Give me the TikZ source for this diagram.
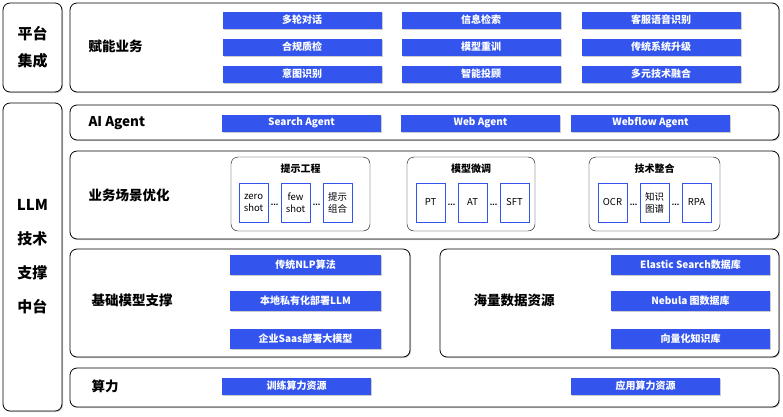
\documentclass[tikz,border=0pt]{standalone}
\usepackage{fontspec}
\setmainfont{Liberation Sans}
\newfontfamily\cjk{Noto Sans CJK SC}
\usetikzlibrary{shadows,calc}
\definecolor{btn}{HTML}{3355EE}
\tikzset{
  outer/.style={draw=black,thick,rounded corners=7pt,fill=white,drop shadow={shadow xshift=1pt,shadow yshift=-1pt,opacity=.4}},
  inner/.style={draw=black,rounded corners=7pt,fill=white},
  btnbox/.style={fill=btn,text=white,font=\cjk\bfseries\fontsize{10}{11}\selectfont,minimum height=17pt,inner sep=0pt,drop shadow={shadow xshift=1pt,shadow yshift=-1pt,opacity=.4}},
  small/.style={draw=btn,fill=white,thick,minimum width=29pt,minimum height=39pt,inner sep=0pt,align=center,font=\cjk\fontsize{9.5}{12}\selectfont},
  lbl/.style={font=\cjk\bfseries\fontsize{13.5}{15}\selectfont},
  ttl/.style={font=\cjk\bfseries\fontsize{10}{11}\selectfont},
  dots/.style={font=\bfseries\fontsize{9}{9}\selectfont,inner sep=0pt}
}
\begin{document}
\begin{tikzpicture}[x=1pt,y=-1pt]
\useasboundingbox (0,0) rectangle (783,416);
% left
\node[outer,minimum width=59pt,minimum height=89pt,align=center,font=\cjk\bfseries\fontsize{15}{27}\selectfont] (pt) at (32.5,47.5) {平台\\集成};
\node[outer,minimum width=59pt,minimum height=308pt,align=center,font=\cjk\bfseries\fontsize{15}{34}\selectfont] (llm) at (32.5,257) {LLM\\技术\\支撑\\中台};
% row1
\node[outer,minimum width=709pt,minimum height=89pt] (r1) at (424.5,47.5) {};
\node[lbl,anchor=west] (l1) at (85,46) {赋能业务};
\foreach \n/\t/\x/\y in {a/多轮对话/302/20,b/信息检索/481/20,c/客服语音识别/661/20,d/合规质检/302/47,e/模型重训/481/47,f/传统系统升级/661/47,g/意图识别/302/74,h/智能投顾/481/74,i/多元技术融合/661/74}
  \node[btnbox,minimum width=159pt] (b\n) at (\x,\y) {\t};
% AI Agent
\node[outer,minimum width=709pt,minimum height=35pt] (r2) at (424.5,122.5) {};
\node[lbl,anchor=west] (l2) at (85,123) {AI Agent};
\node[btnbox,minimum width=159pt] (sa) at (301.5,123) {Search Agent};
\node[btnbox,minimum width=159pt] (wa) at (480.5,123) {Web Agent};
\node[btnbox,minimum width=159pt] (wf) at (650.5,123) {Webflow Agent};
% scenario
\node[outer,minimum width=709pt,minimum height=88pt] (r3) at (424.5,195) {};
\node[lbl,anchor=west] (l3) at (85,195) {业务场景优化};
\node[inner,minimum width=139pt,minimum height=74pt] (g1) at (300.5,194) {};
\node[inner,minimum width=128pt,minimum height=74pt] (g2) at (471,194) {};
\node[inner,minimum width=131pt,minimum height=74pt] (g3) at (654.5,194) {};
\node[ttl] (t1) at (300.5,169) {提示工程};
\node[ttl] (t2) at (471,169) {模型微调};
\node[ttl] (t3) at (654.5,169) {技术整合};
\node[small] (s1) at (253.5,202.5) {zero\\shot};
\node[small] (s2) at (295.5,202.5) {few\\shot};
\node[small] (s3) at (337.5,202.5) {提示\\组合};
\node[small] (s4) at (430.5,202.5) {PT};
\node[small] (s5) at (472.5,202.5) {AT};
\node[small] (s6) at (514.5,202.5) {SFT};
\node[small] (s7) at (612.5,202.5) {OCR};
\node[small] (s8) at (654.5,202.5) {知识\\图谱};
\node[small] (s9) at (696.5,202.5) {RPA};
\foreach \p/\q in {s1/s2,s2/s3,s4/s5,s5/s6,s7/s8,s8/s9}
  \node[dots] at ($(\p)!0.5!(\q)+(0,2)$) {...};
% base
\node[outer,minimum width=340pt,minimum height=108pt] (r4) at (240,303) {};
\node[lbl,anchor=west] (l4) at (88,300) {基础模型支撑};
\node[btnbox,minimum width=151pt,minimum height=20pt] (c1) at (305.5,265) {传统NLP算法};
\node[btnbox,minimum width=151pt,minimum height=20pt] (c2) at (305.5,301) {本地私有化部署LLM};
\node[btnbox,minimum width=151pt,minimum height=20pt] (c3) at (305.5,339) {企业Saas部署大模型};
\node[outer,minimum width=339pt,minimum height=108pt] (r5) at (609.5,303) {};
\node[lbl,anchor=west] (l5) at (470,300) {海量数据资源};
\node[btnbox,minimum width=159pt,minimum height=20pt] (d1) at (690.5,265) {Elastic Search数据库};
\node[btnbox,minimum width=159pt,minimum height=20pt] (d2) at (690.5,301) {Nebula 图数据库};
\node[btnbox,minimum width=159pt,minimum height=20pt] (d3) at (690.5,339) {向量化知识库};
% compute
\node[outer,minimum width=709pt,minimum height=39pt] (r6) at (424.5,387.5) {};
\node[lbl,anchor=west] (l6) at (88,386) {算力};
\node[btnbox,minimum width=149pt] (e1) at (296.5,386) {训练算力资源};
\node[btnbox,minimum width=149pt] (e2) at (645.5,386) {应用算力资源};
\end{tikzpicture}
\end{document}
